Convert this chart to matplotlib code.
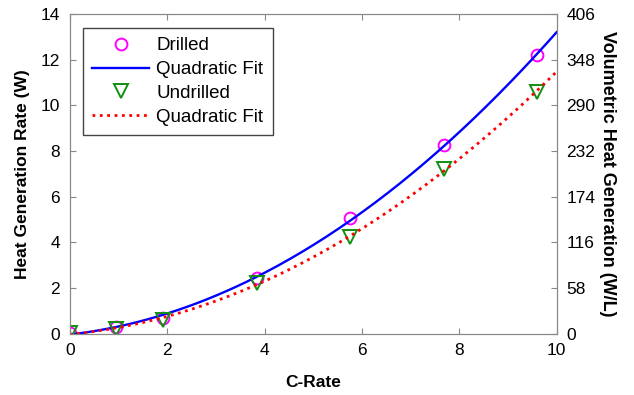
import matplotlib.pyplot as plt
import numpy as np

plt.rcParams['font.family'] = ['Liberation Sans', 'DejaVu Sans']

c_rate = [0, 0.96, 1.92, 3.84, 5.76, 7.68, 9.6]
drilled = [0.05, 0.3, 0.7, 2.45, 5.05, 8.25, 12.2]
undrilled = [0.05, 0.22, 0.62, 2.2, 4.25, 7.2, 10.6]
WL_PER_W = 29  # volumetric scale of the right axis
right_ticks = [0, 58, 116, 174, 232, 290, 348, 406]

# quadratic fits through the measured points
x_fit = np.linspace(0, 10, 200)
fit_d = np.polyval(np.polyfit(c_rate, drilled, 2), x_fit)
fit_u = np.polyval(np.polyfit(c_rate, undrilled, 2), x_fit)

fig, ax1 = plt.subplots(figsize=(6.34, 3.95), dpi=100)
fig.subplots_adjust(left=0.11, right=0.878, top=0.965, bottom=0.155)

ax1.plot(c_rate, drilled, 'o', mfc='none', mec='#ff00ff', mew=1.4, ms=8.5, label='Drilled')
ax1.plot(x_fit, fit_d, '-', color='#0000ff', lw=1.7, label='Quadratic Fit')
ax1.plot(c_rate, undrilled, 'v', mfc='none', mec='#109010', mew=1.4, ms=9.5, label='Undrilled')
ax1.plot(x_fit, fit_u, ':', color='#ff0000', lw=2, label='Quadratic Fit')

ax1.set_xlim(0, 10)
ax1.set_ylim(0, 14)
ax1.set_xticks(range(0, 11, 2))
ax1.set_yticks(range(0, 15, 2))
ax1.set_xlabel('C-Rate', fontsize=12.5, fontweight='bold', labelpad=12)
ax1.set_ylabel('Heat Generation Rate (W)', fontsize=12.5, fontweight='bold', labelpad=8)

ax2 = ax1.twinx()
ax2.set_ylim(0, 14 * WL_PER_W)
ax2.set_yticks(right_ticks)
ax2.set_ylabel('Volumetric Heat Generation (W/L)', fontsize=13, fontweight='bold',
               rotation=270, labelpad=15)

for ax in (ax1, ax2):
    for s in ax.spines.values():
        s.set_color('#888888')
    ax.tick_params(direction='in', length=4, color='#888888', labelsize=12.5, pad=7)
ax1.tick_params(top=True)

leg = ax1.legend(loc='upper left', bbox_to_anchor=(0.008, 0.985), fontsize=13.5,
                 handlelength=3, fancybox=False, framealpha=1, borderpad=0.5,
                 labelspacing=0.35, handletextpad=0.4)
leg.get_frame().set_edgecolor('#444444')
leg.get_frame().set_linewidth(1)

fig.savefig('out.png')
